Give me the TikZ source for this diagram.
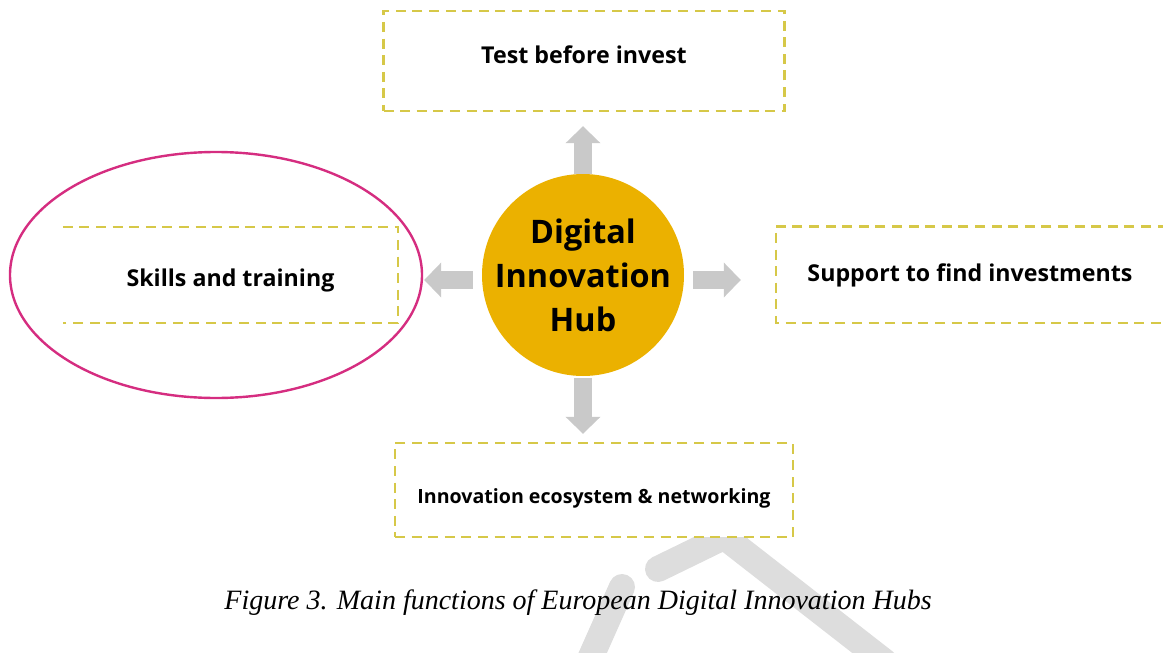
\documentclass[tikz,border=0pt]{standalone}
\usepackage{fontspec}
\setmainfont{Liberation Serif}
\setsansfont{Open Sans}
\usetikzlibrary{arrows.meta}
\definecolor{dihgold}{RGB}{235,177,0}
\definecolor{dashyellow}{RGB}{214,200,72}
\definecolor{arrowgrey}{RGB}{201,201,201}
\definecolor{markpink}{RGB}{213,45,128}
\definecolor{wmgrey}{RGB}{221,221,221}
\tikzset{
  dashline/.style={draw=dashyellow,line width=1.2pt,dash pattern=on 5pt off 3.3pt},
  fnbox/.style={dashline,fill=white,inner sep=0pt,text depth=0pt,font=\sffamily\bfseries\fontsize{11.6}{13}\selectfont},
  blockarrow/.style={arrowgrey,line width=9pt,-{Triangle[width=17pt,length=8.5pt]}},
  wmband/.style={wmgrey,line width=13pt,line cap=round}
}
\begin{document}
\begin{tikzpicture}[x=0.5pt,y=-0.5pt]
\useasboundingbox (0,0) rectangle (1163,653);
\pgfmathsetmacro{\bh}{47}
% watermark
\draw[wmband] (658,569) -- (738,530);
\draw[wmband] (722,535) -- (885,662);
\draw[wmband] (622,587) -- (586,668);
% functions
\node[fnbox,text height=2.5pt,minimum width=200.5pt,minimum height=50pt] (invest) at (584,61) {Test before invest};
\node[fnbox,text height=11.5pt,draw=none,minimum width=166.5pt,minimum height=\bh pt] (skills) at (230.5,275) {Skills and training};
\draw[dashline] (skills.north west) -- (skills.north east) -- (skills.south east) -- (skills.south west);
\node[fnbox,text height=7pt,draw=none,minimum width=193pt,minimum height=\bh pt] (support) at (970,274.5) {Support to find investments};
\draw[dashline] ([xshift=10pt]support.north east) -- (support.north west) -- (support.south west) -- ([xshift=10pt]support.south east);
\node[fnbox,text height=13pt,font=\sffamily\bfseries\fontsize{9.8}{12}\selectfont,minimum width=199pt,minimum height=\bh pt] (network) at (594,490) {Innovation ecosystem \& networking};
% hub
\node[circle,fill=dihgold,minimum size=101pt,inner sep=-1.5pt,align=center,
  font=\sffamily\bfseries\fontsize{16.2}{22}\selectfont] (hub) at (583,275) {Digital\\Innovation\\Hub};
\draw[blockarrow,shorten >=7pt] (hub.north) -- (hub.north |- invest.south);
\draw[blockarrow,shorten <=4.5pt,shorten >=13pt] ([yshift=-2.5pt]hub.west) -- ([yshift=-2.5pt]hub.west -| skills.east);
\draw[blockarrow,shorten <=4.5pt,shorten >=17.5pt] ([yshift=-2.5pt]hub.east) -- ([yshift=-2.5pt]hub.east -| support.west);
\draw[blockarrow,shorten <=1pt,shorten >=4pt] (hub.south) -- (hub.south |- network.north);
% mark
\draw[markpink,line width=1.2pt] (216,275) ellipse [x radius=103pt,y radius=61.5pt];
\node[font=\itshape\fontsize{14}{16}\selectfont] (caption) at (578,603) {Figure 3. Main functions of European Digital Innovation Hubs};
\end{tikzpicture}
\end{document}
